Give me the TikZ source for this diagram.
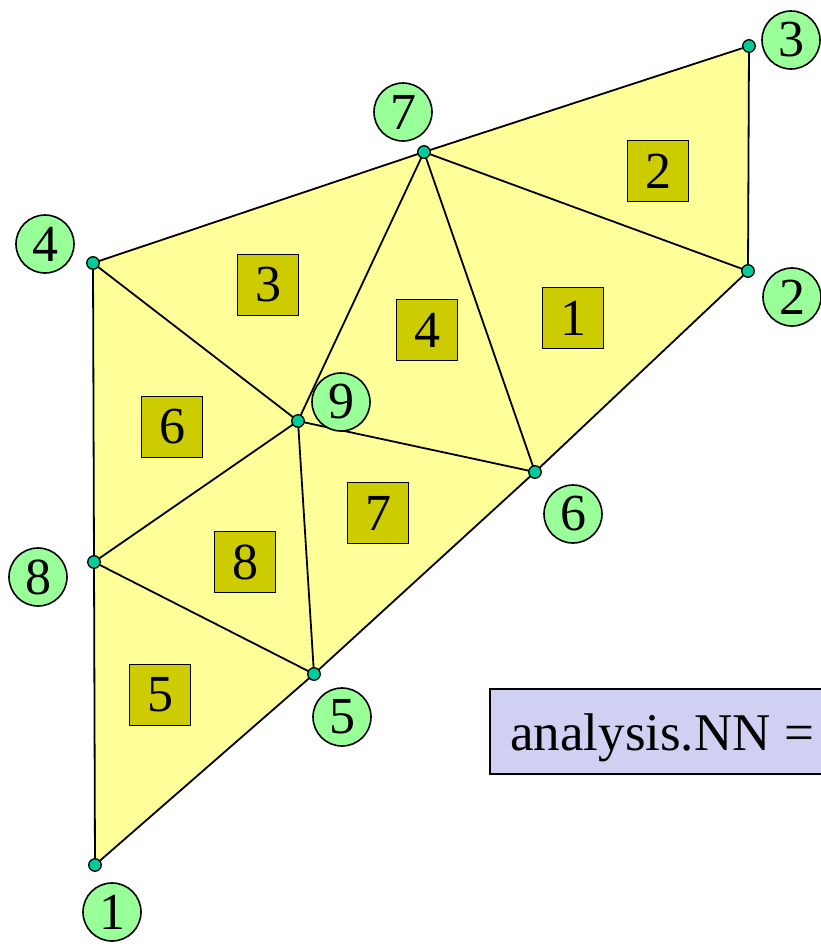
\documentclass[tikz,border=0pt]{standalone}
\usepackage{fontspec}
\setmainfont{Liberation Serif}
\begin{document}
\begin{tikzpicture}[x=1pt,y=-1pt,
  tri/.style={fill={rgb,255:red,255;green,255;blue,153}},
  edge/.style={draw=black, line width=1.8pt, line join=round},
  dot/.style={circle, fill={rgb,255:red,0;green,204;blue,153}, draw=black, line width=1.3pt, minimum size=12.5pt, inner sep=0pt},
  nlabel/.style={circle, fill={rgb,255:red,153;green,255;blue,153}, draw=black, line width=1.6pt, minimum size=58pt, inner sep=0pt, font=\fontsize{52}{52}\selectfont},
  elabel/.style={rectangle, fill={rgb,255:red,204;green,204;blue,0}, draw=black, line width=1.6pt, minimum size=61pt, inner sep=0pt, font=\fontsize{52}{52}\selectfont},
  infobox/.style={fill={rgb,255:red,208;green,208;blue,242}, draw=black, line width=1.6pt}
]
\useasboundingbox (0,0) rectangle (821,946);
% coordinates of mesh nodes
\coordinate (p1) at (95,865);
\coordinate (p2) at (748,271);
\coordinate (p3) at (749,46);
\coordinate (p4) at (93,263);
\coordinate (p5) at (314,674);
\coordinate (p6) at (535,472);
\coordinate (p7) at (424,152);
\coordinate (p8) at (94,562);
\coordinate (p9) at (298,421);
% filled triangles
\fill[tri] (p7) -- (p6) -- (p2) -- cycle;
\fill[tri] (p7) -- (p2) -- (p3) -- cycle;
\fill[tri] (p4) -- (p9) -- (p7) -- cycle;
\fill[tri] (p9) -- (p6) -- (p7) -- cycle;
\fill[tri] (p1) -- (p5) -- (p8) -- cycle;
\fill[tri] (p4) -- (p8) -- (p9) -- cycle;
\fill[tri] (p9) -- (p5) -- (p6) -- cycle;
\fill[tri] (p8) -- (p5) -- (p9) -- cycle;
% edges
\draw[edge] (p1) -- (p8) -- (p4) -- (p7) -- (p3) -- (p2) -- (p6) -- (p5) -- cycle;
\draw[edge] (p7) -- (p2);
\draw[edge] (p7) -- (p6);
\draw[edge] (p7) -- (p9);
\draw[edge] (p4) -- (p9);
\draw[edge] (p9) -- (p6);
\draw[edge] (p9) -- (p8);
\draw[edge] (p9) -- (p5);
\draw[edge] (p8) -- (p5);
% element labels
\node[elabel] (e1) at (573,318) {1};
\node[elabel] (e2) at (658,171) {2};
\node[elabel] (e3) at (268,285) {3};
\node[elabel] (e4) at (427,330) {4};
\node[elabel] (e5) at (160,695) {5};
\node[elabel] (e6) at (172,427) {6};
\node[elabel] (e7) at (378,513) {7};
\node[elabel] (e8) at (245,562) {8};
% node dots
\foreach \i in {1,...,9} { \node[dot] (d\i) at (p\i) {}; }
% node labels
\node[nlabel] (n1) at (112,912) {1};
\node[nlabel] (n2) at (792,297) {2};
\node[nlabel] (n3) at (791,40) {3};
\node[nlabel] (n4) at (45,244) {4};
\node[nlabel] (n5) at (342,717) {5};
\node[nlabel] (n6) at (573,514) {6};
\node[nlabel] (n7) at (403,112) {7};
\node[nlabel] (n8) at (38,577) {8};
\node[nlabel] (n9) at (341,402) {9};
% info box
\draw[infobox] (490,689) rectangle (840,774);
\node[anchor=base west, inner sep=0pt, font=\fontsize{53}{53}\selectfont] (info) at (510,750) {analysis.NN =};
\end{tikzpicture}
\end{document}
